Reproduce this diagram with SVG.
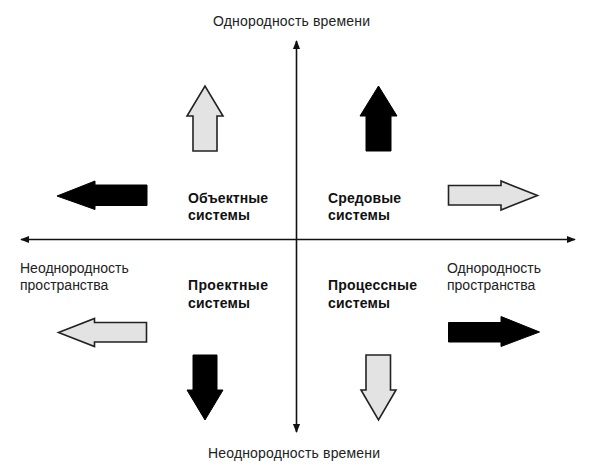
<svg xmlns="http://www.w3.org/2000/svg" width="591" height="471" viewBox="0 0 591 471">
<defs>
<style>
.t{font-family:"Liberation Sans",Arial,sans-serif;font-size:14px;fill:#222}
.b{font-family:"Liberation Sans",Arial,sans-serif;font-size:14px;font-weight:bold;fill:#111}
.ax{stroke:#111;stroke-width:1.6;fill:none}
.light{fill:#e3e3e3;stroke:#222;stroke-width:1.6;stroke-linejoin:miter}
.dark{fill:#000;stroke:#000;stroke-width:1}
</style>
<marker id="ah" viewBox="0 0 10 10" refX="9" refY="5" markerWidth="9" markerHeight="9" markerUnits="userSpaceOnUse" orient="auto-start-reverse">
<path d="M0,1 L10,5 L0,9 Z" fill="#111"/>
</marker>
</defs>
<rect width="591" height="471" fill="#fff"/>
<g id="connectors">
<line class="ax" x1="296.5" y1="432" x2="296.5" y2="41" marker-end="url(#ah)" marker-start="url(#ah)"/>
<line class="ax" x1="21" y1="239.5" x2="575" y2="239.5" marker-end="url(#ah)" marker-start="url(#ah)"/>
</g>
<g id="arrow-up-light"><polygon class="light" points="193,151 193,116 187,116 205,86 223,116 217,116 217,151"/></g>
<g id="arrow-up-dark"><polygon class="dark" points="366,151 366,116 360,116 378.5,86 397,116 391,116 391,151"/></g>
<g id="arrow-left-dark"><polygon class="dark" points="147,185 95,185 95,181 57,196 95,209.5 95,205.5 147,205.5"/></g>
<g id="arrow-right-light"><polygon class="light" points="448.5,185.5 501,185.5 501,181 537.5,195.5 501,210 501,205 448.5,205"/></g>
<g id="arrow-left-light"><polygon class="light" points="146.5,322.5 94.5,322.5 94.5,318.5 58.5,332.5 94.5,346.5 94.5,342 146.5,342"/></g>
<g id="arrow-right-dark"><polygon class="dark" points="448.5,322.5 501,322.5 501,316.5 539.5,332 501,346.5 501,342 448.5,342"/></g>
<g id="arrow-down-dark"><polygon class="dark" points="193,355 217,355 217,390 223,390 205,420 187,390 193,390"/></g>
<g id="arrow-down-light"><polygon class="light" points="366,355 390.5,355 390.5,390 396,390 378.5,420 361,390 366,390"/></g>
<g id="label-top"><text class="t" x="213" y="26" textLength="157">Однородность времени</text></g>
<g id="label-bottom"><text class="t" x="208" y="458" textLength="172">Неоднородность времени</text></g>
<g id="label-left"><text class="t" x="20" y="273">Неоднородность</text><text class="t" x="20" y="290">пространства</text></g>
<g id="label-right"><text class="t" x="447" y="273">Однородность</text><text class="t" x="447" y="290">пространства</text></g>
<g id="node-object"><text class="b" x="188" y="203" textLength="80">Объектные</text><text class="b" x="188" y="220" textLength="62">системы</text></g>
<g id="node-env"><text class="b" x="328" y="203" textLength="73">Средовые</text><text class="b" x="328" y="220" textLength="62">системы</text></g>
<g id="node-project"><text class="b" x="188" y="290" textLength="80">Проектные</text><text class="b" x="188" y="308" textLength="62">системы</text></g>
<g id="node-process"><text class="b" x="328" y="290" textLength="89">Процессные</text><text class="b" x="328" y="308" textLength="62">системы</text></g>
</svg>
